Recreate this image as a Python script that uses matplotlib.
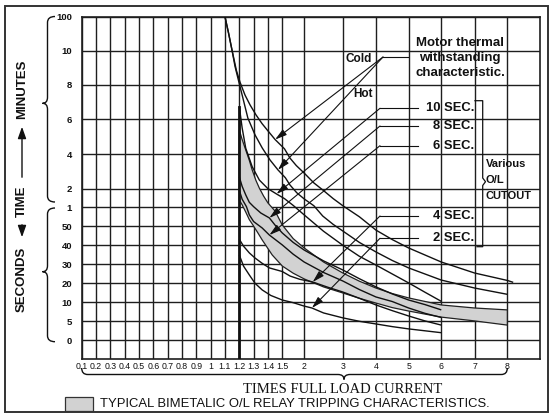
import numpy as np
import matplotlib
matplotlib.use("Agg")
import matplotlib.pyplot as plt
from matplotlib.path import Path
from matplotlib.patches import PathPatch, Rectangle, FancyArrowPatch
from matplotlib.lines import Line2D
import matplotlib.transforms as mtransforms
from matplotlib.scale import FuncScale

# ---------------- axis values / labels ----------------
x_ticks = [0.1, 0.2, 0.3, 0.4, 0.5, 0.6, 0.7, 0.8, 0.9, 1.0, 1.1, 1.2, 1.3, 1.4, 1.5,
           2, 3, 4, 5, 6, 7, 8]
x_tick_labels = ["0.1", "0.2", "0.3", "0.4", "0.5", "0.6", "0.7", "0.8", "0.9", "1", "1.1",
                 "1.2", "1.3", "1.4", "1.5", "2", "3", "4", "5", "6", "7", "8"]
x_max = 9
# time axis in seconds (100 min ... 1 min, then 50 s ... 0 s)
y_ticks = [6000, 600, 480, 360, 240, 120, 60, 50, 40, 30, 20, 10, 5, 0]
y_tick_labels = ["100", "10", "8", "6", "4", "2", "1", "50", "40", "30", "20", "10", "5", "0"]
y_min = -5

# non-uniform chart scale (grid spacing of the printed chart)
x_scale_vals = [0.1, 0.2, 0.3, 0.4, 0.5, 0.6, 0.7, 0.8, 0.9, 1.0, 1.1, 1.2, 1.3, 1.4, 1.5,
                2, 3, 4, 5, 6, 7, 8, 9]
x_scale_pos = [0, 1, 2, 3, 4, 5, 6, 7, 8, 9, 10, 11, 12, 13, 14,
               15.53, 18.23, 20.54, 22.82, 25.10, 27.43, 29.71, 31.99]
y_scale_vals = [-5, 0, 5, 10, 20, 30, 40, 50, 60, 120, 240, 360, 480, 600, 6000]
y_scale_pos = [0, 18.7, 37.7, 56.7, 75.7, 94.7, 113.7, 132.7, 151.7, 170.3, 205.0,
               239.7, 274.3, 308.3, 342.3]

# ---------------- curves (times full load current, seconds) ----------------
cold_x = [1.1, 1.125, 1.15, 1.18, 1.205, 1.24, 1.275, 1.317, 1.359, 1.4, 1.45, 1.55, 1.675,
          1.82, 2, 2.25, 2.48, 2.75, 3, 3.5, 4, 4.5, 5, 6, 7, 8, 8.18]
cold_t = [6000, 3400, 600, 530, 489, 444, 410, 375, 345, 320, 290, 258, 226,
          200, 174, 140, 116, 88, 65, 55, 48, 43, 38.6, 31.2, 25.4, 21.5, 20.5]

hot_x = [1.1, 1.125, 1.15, 1.17, 1.19, 1.225, 1.26, 1.31, 1.36, 1.415, 1.47, 1.57, 1.675, 1.83,
         2, 2.25, 2.48, 2.75, 3, 3.5, 4, 4.5, 5, 6, 7, 8]
hot_t = [6000, 3400, 600, 545, 504, 434, 364, 306, 261, 219, 185, 158, 133, 107,
         87, 65, 55.4, 51, 47.5, 41.5, 36.5, 32, 28.1, 21.7, 17.5, 14.2]

sec10_x = [1.2, 1.22, 1.245, 1.29, 1.34, 1.4, 1.46, 1.55, 1.75, 2, 2.5, 3, 3.5, 4, 4.5, 5,
           5.5, 6]
sec10_t = [404, 330, 260, 196, 150, 120, 103, 88, 66, 56, 47.4, 40, 34.2, 29.6, 24.9, 20.2,
           15.3, 10.5]

sec8_x = [1.2, 1.22, 1.245, 1.27, 1.3, 1.35, 1.41, 1.45, 1.5, 1.75, 2, 2.5, 3, 3.5, 4, 4.5,
          5, 5.5, 6]
sec8_t = [161, 128, 100, 76, 62, 57, 54.4, 50.6, 46.5, 41.5, 37.5, 31.8, 27, 22.4, 18.1,
          14.4, 11.2, 9.4, 8]

sec6_x = [1.2, 1.22, 1.25, 1.27, 1.3, 1.36, 1.41, 1.5, 1.75, 2, 2.5, 3, 3.5, 4, 4.5, 5, 5.5, 6]
sec6_t = [115, 86, 62, 56, 52.5, 49.1, 45.4, 40.2, 35.3, 31.2, 25.7, 21.2, 16.7, 12.8, 10.4,
          8.5, 7.1, 6]

sec4_x = [1.2, 1.23, 1.27, 1.31, 1.36, 1.41, 1.5, 1.68, 1.9, 2.22, 2.6, 3, 3.5, 4, 4.5, 5, 5.5, 6]
sec4_t = [43.2, 39.5, 36, 33.3, 30.5, 28.1, 26.2, 23.8, 22.1, 20.7, 18, 15.4, 12.1, 9.3, 7.8,
          6.4, 5.1, 4]

sec2_x = [1.2, 1.23, 1.27, 1.31, 1.36, 1.42, 1.5, 1.75, 2, 2.2, 2.5, 3, 3.5, 4, 4.5, 5, 5.5, 6]
sec2_t = [34.9, 29, 24.4, 20, 16.5, 13.6, 11.2, 9.9, 9, 8.5, 7.2, 5.9, 5, 4.3, 3.6, 3, 2.5, 2]

# bimetallic relay band
band_top_x = [1.2, 1.22, 1.245, 1.27, 1.29, 1.315, 1.34, 1.37, 1.40, 1.45, 1.5, 1.75, 2, 2.5,
              3, 3.5, 4, 4.5, 5, 6, 7, 8]
band_top_t = [323, 290, 254, 218, 185, 150, 122, 96, 74, 58, 50.7, 43.5, 38.6, 31.2,
              25.4, 21.1, 17.5, 14.6, 12.3, 9.3, 8.5, 8]
band_bot_x = [1.2, 1.22, 1.245, 1.27, 1.295, 1.33, 1.36, 1.43, 1.5, 1.75, 2, 2.5, 3, 3.5, 4,
              4.5, 5, 6, 7, 8]
band_bot_t = [83.5, 68, 57.5, 53.5, 50.7, 46.5, 42.8, 34.9, 29.1, 25.3, 22.3, 18.1, 14.9, 12.1,
              9.8, 8.6, 7.7, 6.1, 5.1, 4]

pickup_x = 1.2          # relay pick-up line (heavy)
pickup_top_t = 404

# arrow tips (x value on each curve)
labels_sec = ["10 SEC.", "8 SEC.", "6 SEC.", "4 SEC.", "2 SEC."]
tips_sec_x = [1.46, 1.41, 1.41, 2.22, 2.2]
tip_cold_x = 1.45
tip_hot_x = 1.47

# ---------------- figure ----------------
W, H = 552, 417
fig = plt.figure(figsize=(W / 100, H / 100), dpi=100)
PX = mtransforms.Affine2D().scale(1 / W, -1 / H).translate(0, 1) + fig.transFigure

ax = fig.add_axes([81.7 / W, 1 - 359 / H, (540 - 81.7) / W, (359 - 16.7) / H])

def fx(v):
    return np.interp(v, x_scale_vals, x_scale_pos)
def ix(p):
    return np.interp(p, x_scale_pos, x_scale_vals)
def fy(v):
    return np.interp(v, y_scale_vals, y_scale_pos)
def iy(p):
    return np.interp(p, y_scale_pos, y_scale_vals)

ax.set_xscale(FuncScale(ax, (fx, ix)))
ax.set_yscale(FuncScale(ax, (fy, iy)))
ax.set_xlim(0.1, x_max)
ax.set_ylim(y_min, 6000)

SANS = ["Liberation Sans", "DejaVu Sans"]
INK = "#111111"
GRID = "#1e1e1e"

ax.set_xticks(x_ticks)
ax.set_xticklabels(x_tick_labels, fontsize=6.3, family=SANS)
ax.set_yticks(y_ticks)
ax.set_yticklabels(y_tick_labels, fontsize=6.8, family=SANS, fontweight="bold")
ax.tick_params(axis="both", length=0, colors=INK)
ax.tick_params(axis="x", pad=2.3)
ax.tick_params(axis="y", pad=7)
ax.grid(True, color=GRID, lw=1.0)
ax.set_axisbelow(True)
for s in ax.spines.values():
    s.set_linewidth(1.2)
    s.set_color(GRID)

# band
bx = list(band_top_x) + list(band_bot_x[::-1])
bt = list(band_top_t) + list(band_bot_t[::-1])
ax.fill(bx, bt, facecolor="#d2d2d2", edgecolor="#222222", lw=0.9, zorder=2)

LW = 1.0
for cx, ct in [(cold_x, cold_t), (hot_x, hot_t), (sec10_x, sec10_t), (sec8_x, sec8_t),
               (sec6_x, sec6_t), (sec4_x, sec4_t), (sec2_x, sec2_t)]:
    ax.plot(cx, ct, color=INK, lw=LW, zorder=3, solid_capstyle="butt")
ax.plot([pickup_x, pickup_x], [pickup_top_t, y_min], color=INK, lw=2.0, zorder=3)

def tip_on(curve_x, curve_t, x):
    p = np.interp(fx(x), fx(np.array(curve_x)), fy(np.array(curve_t)))
    return x, float(iy(p))

ARW = dict(arrowstyle="-|>,head_length=0.7,head_width=0.2", color=INK, lw=0.8,
           shrinkA=0, shrinkB=0, mutation_scale=10)

def leader(x0, x1, y, tip):
    fig.add_artist(Line2D([x0, x1], [y, y], transform=PX, color=INK, lw=0.8))
    ax.annotate("", xy=tip, xycoords="data", xytext=(x1, y), textcoords=PX,
                arrowprops=ARW, annotation_clip=False)

# motor thermal leaders
fig.add_artist(Line2D([408, 383], [57, 57], transform=PX, color=INK, lw=0.8))
ax.annotate("", xy=tip_on(cold_x, cold_t, tip_cold_x), xytext=(383, 57), textcoords=PX,
            arrowprops=ARW, annotation_clip=False)
ax.annotate("", xy=tip_on(hot_x, hot_t, tip_hot_x), xytext=(383, 57), textcoords=PX,
            arrowprops=ARW, annotation_clip=False)

sec_curves = [(sec10_x, sec10_t), (sec8_x, sec8_t), (sec6_x, sec6_t),
              (sec4_x, sec4_t), (sec2_x, sec2_t)]
sec_y = [108.3, 126, 145.7, 216, 238.3]
for lab, (cx, ct), tx, yy in zip(labels_sec, sec_curves, tips_sec_x, sec_y):
    leader(418, 380, yy, tip_on(cx, ct, tx))
    fig.text(474, yy, lab, transform=PX, ha="right", va="center", fontsize=9.4,
             fontweight="bold", family=SANS, color=INK)

BOLD = dict(transform=PX, fontweight="bold", family=SANS, color=INK)
for i, line in enumerate(["Motor thermal", "withstanding", "characteristic."]):
    fig.text(460, 42.7 + 15.3 * i, line, ha="center", va="center", fontsize=9.5, **BOLD)
fig.text(372, 59, "Cold", ha="right", va="center", fontsize=8.5, **BOLD)
fig.text(373, 94, "Hot", ha="right", va="center", fontsize=8.5, **BOLD)
for i, line in enumerate(["Various", "O/L", "CUTOUT"]):
    fig.text(486, 164 + 16 * i, line, ha="left", va="center", fontsize=8, **BOLD)

# right bracket for cutouts
br = [(475, 100.7), (482.7, 100.7), (482.7, 178), (485.5, 181.7), (482.7, 185.5),
      (482.7, 246.7), (477, 246.7)]
fig.add_artist(Line2D([p[0] for p in br], [p[1] for p in br], transform=PX,
                      color=INK, lw=0.9))

# braces
def vbrace(xe, xs, xt, y0, y1, yt, r=6):
    verts = [(xe, y0), (xs, y0), (xs, y0 + r), (xs, yt - r), (xs, yt), (xt, yt),
             (xs, yt), (xs, yt + r), (xs, y1 - r), (xs, y1), (xe, y1)]
    codes = [Path.MOVETO, Path.CURVE3, Path.CURVE3, Path.LINETO, Path.CURVE3, Path.CURVE3,
             Path.CURVE3, Path.CURVE3, Path.LINETO, Path.CURVE3, Path.CURVE3]
    fig.add_artist(PathPatch(Path(verts, codes), transform=PX, fill=False,
                             edgecolor=INK, lw=1.0))

def hbrace(ye, ys, yt, x0, x1, xt, r=6):
    verts = [(x0, ye), (x0, ys), (x0 + r, ys), (xt - r, ys), (xt, ys), (xt, yt),
             (xt, ys), (xt + r, ys), (x1 - r, ys), (x1, ys), (x1, ye)]
    codes = [Path.MOVETO, Path.CURVE3, Path.CURVE3, Path.LINETO, Path.CURVE3, Path.CURVE3,
             Path.CURVE3, Path.CURVE3, Path.LINETO, Path.CURVE3, Path.CURVE3]
    fig.add_artist(PathPatch(Path(verts, codes), transform=PX, fill=False,
                             edgecolor=INK, lw=1.0))

vbrace(55, 47.5, 42.5, 16.5, 202, 103.3)
vbrace(55, 47.5, 42.5, 208, 341.7, 271.7)
hbrace(368, 374.5, 379.5, 81.7, 507.3, 344)

# vertical axis caption
fig.text(22, 89, "MINUTES", rotation=90, ha="center", va="center", fontsize=9.5, **BOLD)
fig.text(22, 201, "TIME", rotation=90, ha="center", va="center", fontsize=9.5, **BOLD)
fig.text(22, 279, "SECONDS", rotation=90, ha="center", va="center", fontsize=9.5, **BOLD)
fig.add_artist(FancyArrowPatch((22, 180), (22, 124), transform=PX,
               arrowstyle="-|>,head_length=0.7,head_width=0.25", mutation_scale=10,
               color=INK, lw=1.0))
fig.add_artist(FancyArrowPatch((22, 222), (22, 240), transform=PX,
               arrowstyle="-|>,head_length=0.7,head_width=0.25", mutation_scale=10,
               color=INK, lw=1.0))

fig.text(343, 390, "TIMES FULL LOAD CURRENT", transform=PX, ha="center", va="center",
         fontsize=10.5, family=["Liberation Serif", "DejaVu Serif"], color=INK)

# legend
fig.add_artist(Rectangle((65, 397.5), 28, 13.5, transform=PX, facecolor="#d2d2d2",
                         edgecolor="#333333", lw=0.9))
fig.text(100, 404.5, "TYPICAL BIMETALIC O/L RELAY TRIPPING CHARACTERISTICS.", transform=PX,
         ha="left", va="center", fontsize=9.4, family=SANS, color=INK)

# outer frame
fig.add_artist(Rectangle((5, 6), 543, 406, transform=PX, fill=False, edgecolor="#333333",
                         lw=1.4))

fig.savefig("out.png", dpi=100)
